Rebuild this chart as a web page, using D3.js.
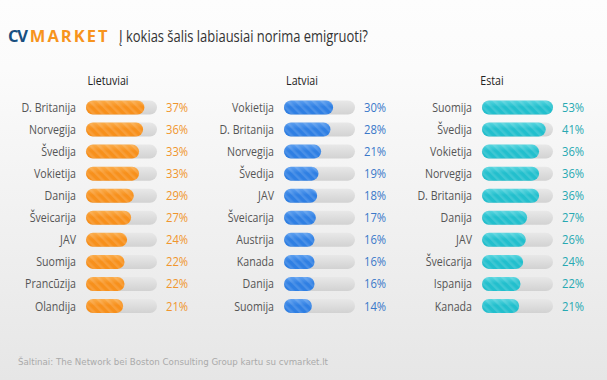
<!DOCTYPE html>
<html>
<head>
<meta charset="utf-8">
<script src="https://cdn.jsdelivr.net/npm/d3@7"></script>
<style>
  body { margin: 0; overflow: hidden; }
  svg { display: block; }
</style>
</head>
<body>
<div id="chart"></div>
<script>
// data
const lietuviaiCountries = ["D. Britanija", "Norvegija", "Švedija", "Vokietija", "Danija", "Šveicarija", "JAV", "Suomija", "Prancūzija", "Olandija"];
const lietuviaiValues = [37, 36, 33, 33, 29, 27, 24, 22, 22, 21];

const latviaiCountries = ["Vokietija", "D. Britanija", "Norvegija", "Švedija", "JAV", "Šveicarija", "Austrija", "Kanada", "Danija", "Suomija"];
const latviaiValues = [30, 28, 21, 19, 18, 17, 16, 16, 16, 14];

const estaiCountries = ["Suomija", "Švedija", "Vokietija", "Norvegija", "D. Britanija", "Danija", "JAV", "Šveicarija", "Ispanija", "Kanada"];
const estaiValues = [53, 41, 36, 36, 36, 27, 26, 24, 22, 21];

const groupNames = ["Lietuviai", "Latviai", "Estai"];

const W = 607, H = 380;
const trackW = 71, barH = 14;
const font = "'Open Sans', sans-serif";

const panels = [
  { name: groupNames[0], countries: lietuviaiCountries, values: lietuviaiValues, x: 86, head: 108,
    fill: "#f7901c", fillTop: "#fbad4c", text: "#f0962e" },
  { name: groupNames[1], countries: latviaiCountries, values: latviaiValues, x: 284, head: 302,
    fill: "#2f7fe3", fillTop: "#5ea0f0", text: "#3a78c9" },
  { name: groupNames[2], countries: estaiCountries, values: estaiValues, x: 482, head: 492,
    fill: "#22bfcd", fillTop: "#5ad6e0", text: "#27a9b2" }
];

const svg = d3.select("#chart").append("svg")
    .attr("width", W)
    .attr("height", H);

const defs = svg.append("defs");

// page background: white fading into light gray
const bg = defs.append("linearGradient").attr("id", "bg")
    .attr("x1", 0).attr("y1", 0).attr("x2", 0).attr("y2", 1);
bg.append("stop").attr("offset", "0%").attr("stop-color", "#fdfdfd");
bg.append("stop").attr("offset", "18%").attr("stop-color", "#fbfbfb");
bg.append("stop").attr("offset", "100%").attr("stop-color", "#e6e6e6");

const track = defs.append("linearGradient").attr("id", "track")
    .attr("x1", 0).attr("y1", 0).attr("x2", 0).attr("y2", 1);
track.append("stop").attr("offset", "0%").attr("stop-color", "#e8e8e8");
track.append("stop").attr("offset", "100%").attr("stop-color", "#d2d2d2");

panels.forEach((p, i) => {
  const g = defs.append("linearGradient").attr("id", "fill" + i)
      .attr("x1", 0).attr("y1", 0).attr("x2", 0).attr("y2", 1);
  g.append("stop").attr("offset", "0%").attr("stop-color", p.fillTop);
  g.append("stop").attr("offset", "45%").attr("stop-color", p.fill);
  g.append("stop").attr("offset", "100%").attr("stop-color", p.fill);
});

// thin diagonal stripes on the filled part
const pat = defs.append("pattern").attr("id", "stripes")
    .attr("width", 6).attr("height", 6)
    .attr("patternUnits", "userSpaceOnUse")
    .attr("patternTransform", "rotate(-45)");
pat.append("rect").attr("width", 2.5).attr("height", 6)
    .attr("fill", "#ffffff").attr("opacity", 0.13);

svg.append("rect").attr("width", W).attr("height", H).attr("fill", "url(#bg)");

// the original face is narrow, so squeeze Open Sans a little
function narrow(sel, x, yy, sx) {
  return sel.attr("transform", `translate(${x},${yy}) scale(${sx},1)`);
}

// header
const logo = svg.append("text")
    .attr("x", 8).attr("y", 42)
    .style("font-family", font)
    .style("font-weight", "bold")
    .style("font-size", "16.5px");
logo.append("tspan").attr("fill", "#174f80").style("letter-spacing", "-1.2px").text("CV");
logo.append("tspan").attr("dx", 3).attr("fill", "#f7941d").style("letter-spacing", "2px").text("MARKET");

narrow(svg.append("text"), 119, 42, 0.81)
    .attr("fill", "#333")
    .style("font-family", font)
    .style("font-size", "16px")
    .text("Į kokias šalis labiausiai norima emigruoti?");

// rows and bar length
const y = d3.scalePoint()
    .domain(d3.range(10))
    .range([107.5, 306]);

const len = d3.scaleLinear()
    .domain([-7, 46.5])
    .range([0, trackW])
    .clamp(true);

panels.forEach((p, i) => {
  const g = svg.append("g").attr("transform", `translate(${p.x},0)`);

  narrow(svg.append("text"), p.head, 85, 0.85)
      .attr("text-anchor", "middle")
      .attr("fill", "#222")
      .style("font-family", font)
      .style("font-size", "12.5px")
      .text(p.name);

  const row = g.selectAll(".row")
      .data(p.countries.map((c, j) => ({ country: c, value: p.values[j], j })))
      .enter().append("g")
      .attr("class", "row")
      .attr("transform", d => `translate(0,${y(d.j)})`);

  narrow(row.append("text"), -10, 4.5, 0.85)
      .attr("text-anchor", "end")
      .attr("fill", "#555")
      .style("font-family", font)
      .style("font-size", "12.5px")
      .text(d => d.country);

  row.append("rect")
      .attr("y", -barH / 2).attr("width", trackW).attr("height", barH)
      .attr("rx", barH / 2)
      .attr("fill", "url(#track)");

  row.append("rect")
      .attr("y", -barH / 2).attr("width", d => len(d.value)).attr("height", barH)
      .attr("rx", barH / 2)
      .attr("fill", `url(#fill${i})`);

  row.append("rect")
      .attr("y", -barH / 2).attr("width", d => len(d.value)).attr("height", barH)
      .attr("rx", barH / 2)
      .attr("fill", "url(#stripes)");

  narrow(row.append("text"), trackW + 9, 4.5, 0.9)
      .attr("fill", p.text)
      .style("font-family", font)
      .style("font-size", "12.5px")
      .text(d => d.value + "%");
});

// source line
svg.append("text")
    .attr("x", 18).attr("y", 365)
    .attr("fill", "#aaaaaa")
    .attr("textLength", 310)
    .attr("lengthAdjust", "spacingAndGlyphs")
    .style("font-family", "'DejaVu Sans', sans-serif")
    .style("font-size", "9px")
    .text("Šaltinai: The Network bei Boston Consulting Group kartu su cvmarket.lt");
</script>
</body>
</html>
